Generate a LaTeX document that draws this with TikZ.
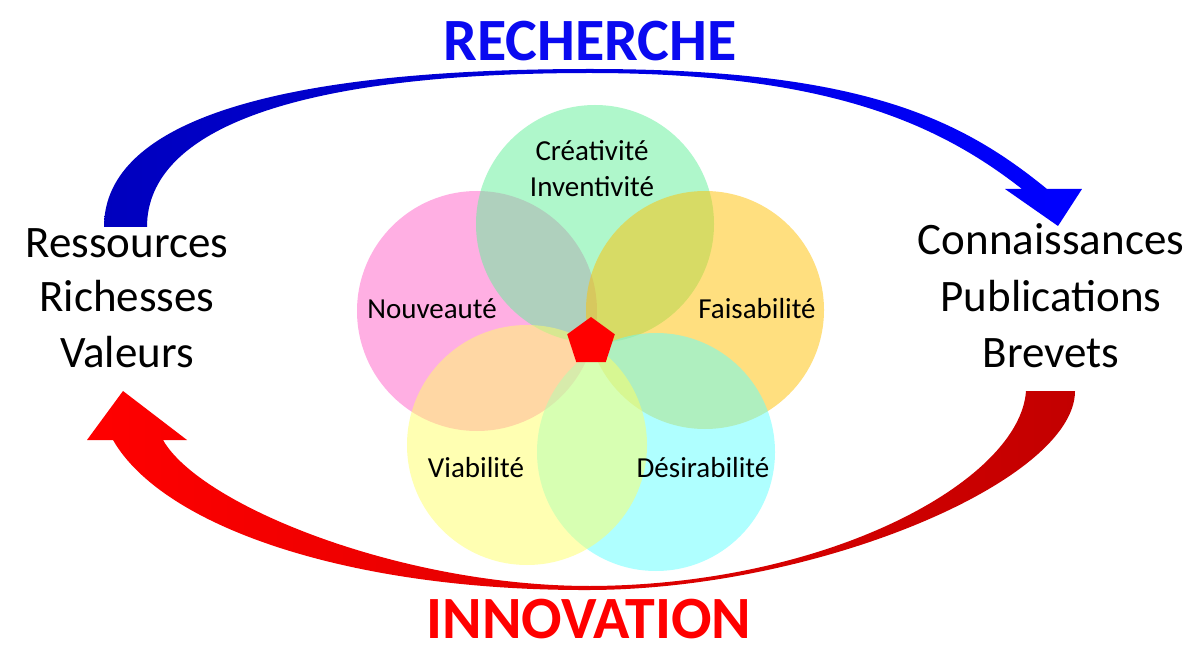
\documentclass[tikz,border=0pt]{standalone}
\usepackage{fontspec}
\setmainfont{Carlito}
\usetikzlibrary{shapes.geometric}
\definecolor{bluedark}{RGB}{0,0,190}
\definecolor{bluelight}{RGB}{0,0,255}
\definecolor{redlight}{RGB}{255,0,0}
\definecolor{reddark}{RGB}{195,0,0}
\definecolor{titleblue}{RGB}{10,10,240}
\definecolor{titlered}{RGB}{255,0,0}
\definecolor{cpink}{RGB}{255,97,201}
\definecolor{cgreen}{RGB}{97,241,153}
\definecolor{corange}{RGB}{255,193,1}
\definecolor{ccyan}{RGB}{97,255,255}
\definecolor{cyellow}{RGB}{255,255,103}
\tikzset{
  petal/.style={fill=#1, fill opacity=0.5, draw=none},
  small/.style={font=\fontsize{29}{35}\selectfont, anchor=base, inner sep=0pt},
  big/.style={font=\fontsize{45}{55}\selectfont, anchor=base, inner sep=0pt},
  title/.style={font=\bfseries\fontsize{60}{70}\selectfont, anchor=base, inner sep=0pt},
}
\begin{document}
\begin{tikzpicture}[x=1pt,y=-1pt]
\useasboundingbox (0,0) rectangle (1194,652);
\fill[white] (0,0) rectangle (1194,652);

% blue curved arrow (RECHERCHE)
\shade[left color=bluedark, right color=bluelight]
  (104,227) .. controls (104,120) and (280,69) .. (590,69)
  .. controls (860,69) and (960,118) .. (1047,189)
  -- (1082,189) -- (1058,226) -- (1005,189) -- (1022,189)
  .. controls (940,125) and (830,73) .. (590,73)
  .. controls (300,73) and (147,128) .. (147,227) -- cycle;

% red curved arrow (INNOVATION)
\shade[left color=redlight, right color=reddark]
  (1075,391) .. controls (1075,480) and (820,589) .. (590,590)
  .. controls (350,591) and (163,527) .. (113,440)
  -- (87,440) -- (123,391) -- (187,440) -- (163,440)
  .. controls (200,505) and (400,586) .. (590,586)
  .. controls (830,585) and (1020,480) .. (1026,391) -- cycle;

% five circles
\fill[petal=cpink]   (477,311) circle[radius=120];
\fill[petal=cgreen]  (595,224) circle[radius=119];
\fill[petal=corange] (705,310) circle[radius=119];
\fill[petal=ccyan]   (656,452) circle[radius=119];
\fill[petal=cyellow] (527,445) circle[radius=120];

% centre pentagon
\node[regular polygon, regular polygon sides=5, minimum size=50pt, inner sep=0pt,
      fill=red, draw=none] (pent) at (591,342) {};

% circle labels
\node[small] (creat) at (592,161) {Créativité};
\node[small] (invent) at (592,197) {Inventivité};
\node[small] (nouv) at (432,319) {Nouveauté};
\node[small] (fais) at (757,319) {Faisabilité};
\node[small] (viab) at (476,477) {Viabilité};
\node[small] (desir) at (703,477) {Désirabilité};

% side labels
\node[big] (res) at (127,258) {Ressources};
\node[big] (rich) at (127,312) {Richesses};
\node[big] (val) at (127,367) {Valeurs};
\node[big] (conn) at (1051,255) {Connaissances};
\node[big] (pub) at (1051,312) {Publications};
\node[big] (brev) at (1051,367) {Brevets};

% titles
\node[title, text=titleblue] (rech) at (590,61) {RECHERCHE};
\node[title, text=titlered] (innov) at (589,638) {INNOVATION};
\end{tikzpicture}
\end{document}
